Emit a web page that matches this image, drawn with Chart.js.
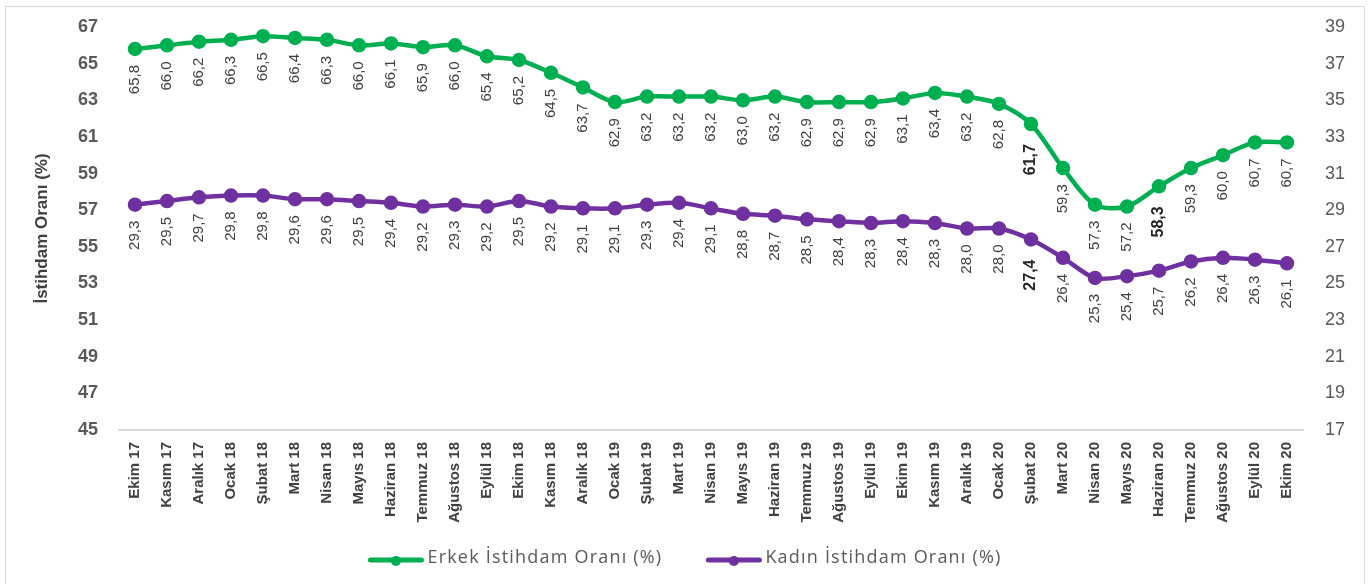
<!DOCTYPE html>
<html>
<head>
<meta charset="utf-8">
<script src="https://cdn.jsdelivr.net/npm/chart.js@4.4.1/dist/chart.umd.min.js"></script>
<style>
    body { margin: 0; background: #fff; }
    #frame { position: absolute; left: 5px; top: 6px; width: 1358px; height: 600px; border: 1px solid #d9d9d9; }
    #wrap { position: absolute; left: 0; top: 0; width: 1370px; height: 584px; }
</style>
</head>
<body>
<div id="frame"></div>
<div id="wrap"><canvas id="istihdamChart" width="1370" height="584"></canvas></div>
<script>
// Aylar (x ekseni)
const months = [
    'Ekim 17', 'Kasım 17', 'Aralık 17', 'Ocak 18', 'Şubat 18', 'Mart 18', 'Nisan 18', 'Mayıs 18',
    'Haziran 18', 'Temmuz 18', 'Ağustos 18', 'Eylül 18', 'Ekim 18', 'Kasım 18', 'Aralık 18',
    'Ocak 19', 'Şubat 19', 'Mart 19', 'Nisan 19', 'Mayıs 19', 'Haziran 19', 'Temmuz 19',
    'Ağustos 19', 'Eylül 19', 'Ekim 19', 'Kasım 19', 'Aralık 19', 'Ocak 20', 'Şubat 20',
    'Mart 20', 'Nisan 20', 'Mayıs 20', 'Haziran 20', 'Temmuz 20', 'Ağustos 20', 'Eylül 20', 'Ekim 20'
];

const erkekRate = [
    65.8, 66.0, 66.2, 66.3, 66.5, 66.4, 66.3, 66.0, 66.1, 65.9, 66.0, 65.4, 65.2, 64.5, 63.7,
    62.9, 63.2, 63.2, 63.2, 63.0, 63.2, 62.9, 62.9, 62.9, 63.1, 63.4, 63.2, 62.8, 61.7,
    59.3, 57.3, 57.2, 58.3, 59.3, 60.0, 60.7, 60.7
];

const kadinRate = [
    29.3, 29.5, 29.7, 29.8, 29.8, 29.6, 29.6, 29.5, 29.4, 29.2, 29.3, 29.2, 29.5, 29.2, 29.1,
    29.1, 29.3, 29.4, 29.1, 28.8, 28.7, 28.5, 28.4, 28.3, 28.4, 28.3, 28.0, 28.0, 27.4,
    26.4, 25.3, 25.4, 25.7, 26.2, 26.4, 26.3, 26.1
];

// kalın yazılan etiketler (ay indeksleri)
const erkekBold = [28, 32];
const kadinBold = [28];

const leftTicks = [45, 67];
const rightTicks = [17, 39];

const GREEN = '#00B050';
const PURPLE = '#7030A0';

// dikey veri etiketleri (noktanın altında)
const verticalLabels = {
    id: 'verticalLabels',
    afterDatasetsDraw(chart) {
        const ctx = chart.ctx;
        chart.data.datasets.forEach((ds, i) => {
            const meta = chart.getDatasetMeta(i);
            const bold = ds.boldIdx || [];
            meta.data.forEach((pt, j) => {
                const isBold = bold.includes(j);
                ctx.save();
                ctx.translate(pt.x, pt.y + (isBold ? 20 : 16));
                ctx.rotate(-Math.PI / 2);
                ctx.font = (isBold ? 'bold 16px' : '15px') + ' "Liberation Sans", Arial, sans-serif';
                ctx.fillStyle = isBold ? '#262626' : '#404040';
                ctx.textAlign = 'right';
                ctx.textBaseline = 'middle';
                ctx.fillText(ds.data[j].toFixed(1).replace('.', ','), 0, 0);
                ctx.restore();
            });
        });
    }
};

// alttaki legend (çizgi + nokta + yazı), Excel görünümüne yakın
const bottomLegend = {
    id: 'bottomLegend',
    afterDraw(chart) {
        const ctx = chart.ctx;
        const y = 559;
        const lineW = 55, gapText = 4, gapItem = 44;
        ctx.save();
        ctx.font = '18px "Open Sans", sans-serif';
        ctx.letterSpacing = '1.2px';
        const items = chart.data.datasets.map(ds => ({
            color: ds.borderColor,
            text: ds.label,
            w: ctx.measureText(ds.label).width
        }));
        let total = 0;
        items.forEach((it, k) => { total += lineW + gapText + it.w + (k ? gapItem : 0); });
        let x = chart.width / 2 - total / 2;
        items.forEach(it => {
            ctx.strokeStyle = it.color;
            ctx.lineWidth = 5;
            ctx.lineCap = 'round';
            ctx.beginPath();
            ctx.moveTo(x + 2, y + 1);
            ctx.lineTo(x + lineW - 2, y + 1);
            ctx.stroke();
            ctx.fillStyle = it.color;
            ctx.beginPath();
            ctx.arc(x + lineW / 2, y + 2, 5, 0, Math.PI * 2);
            ctx.fill();
            ctx.fillStyle = '#595959';
            ctx.textAlign = 'left';
            ctx.textBaseline = 'middle';
            ctx.fillText(it.text, x + lineW + gapText, y - 1);
            x += lineW + gapText + it.w + gapItem;
        });
        ctx.restore();
    }
};

// dikey eksenlerin üst/alt ek boşluğunu kaldır
function fixVertical(width) {
    return scale => {
        scale.width = width;
        scale.paddingTop = 0;
        scale.paddingBottom = 0;
    };
}

const ctx = document.getElementById('istihdamChart').getContext('2d');
new Chart(ctx, {
    type: 'line',
    data: {
        labels: months,
        datasets: [
            {
                label: 'Erkek İstihdam Oranı (%)',
                data: erkekRate,
                boldIdx: erkekBold,
                yAxisID: 'y',
                borderColor: GREEN,
                backgroundColor: GREEN,
                pointBackgroundColor: GREEN,
                pointBorderColor: GREEN,
                borderWidth: 4.5,
                pointRadius: 5,
                tension: 0.3
            },
            {
                label: 'Kadın İstihdam Oranı (%)',
                data: kadinRate,
                boldIdx: kadinBold,
                yAxisID: 'y2',
                borderColor: PURPLE,
                backgroundColor: PURPLE,
                pointBackgroundColor: PURPLE,
                pointBorderColor: PURPLE,
                borderWidth: 4.5,
                pointRadius: 5,
                tension: 0.3
            }
        ]
    },
    options: {
        responsive: false,
        animation: false,
        layout: { padding: { left: 20, right: 0, top: 27, bottom: 44 } },
        plugins: {
            tooltip: { enabled: false },
            legend: { display: false }
        },
        scales: {
            x: {
                offset: true,
                grid: { display: false, drawTicks: false },
                border: { display: true, color: '#d9d9d9', width: 2 },
                afterFit(scale) { scale.height = 110; },
                ticks: {
                    autoSkip: false,
                    minRotation: 90,
                    maxRotation: 90,
                    padding: 12,
                    color: '#404040',
                    font: { family: '"Liberation Sans", Arial, sans-serif', size: 15, weight: 'bold' }
                }
            },
            y: {
                position: 'left',
                min: leftTicks[0],
                max: leftTicks[1],
                grid: { display: false, drawTicks: false },
                border: { display: false },
                afterFit: fixVertical(99),
                title: {
                    display: true,
                    text: 'İstihdam Oranı (%)',
                    color: '#404040',
                    padding: { top: 12, bottom: 0 },
                    font: { family: '"Liberation Sans", Arial, sans-serif', size: 17, weight: 'bold' }
                },
                ticks: {
                    stepSize: 2,
                    padding: 21,
                    color: '#595959',
                    font: { family: '"Liberation Sans", Arial, sans-serif', size: 18, weight: 'bold' }
                }
            },
            y2: {
                position: 'right',
                min: rightTicks[0],
                max: rightTicks[1],
                grid: { display: false, drawTicks: false },
                border: { display: false },
                afterFit: fixVertical(67),
                ticks: {
                    stepSize: 2,
                    padding: 22,
                    color: '#595959',
                    font: { family: '"Liberation Sans", Arial, sans-serif', size: 18 }
                }
            }
        }
    },
    plugins: [verticalLabels, bottomLegend]
});
</script>
</body>
</html>
